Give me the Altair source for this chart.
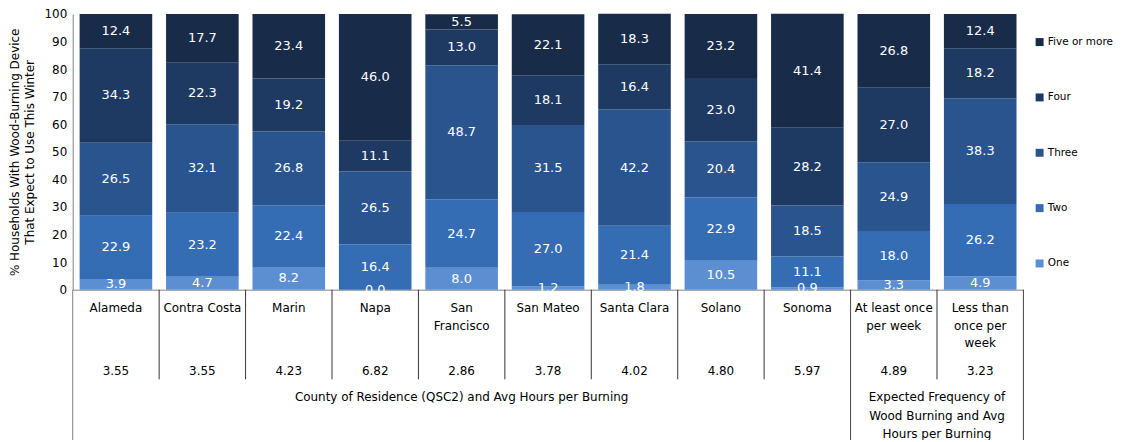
import altair as alt
import pandas as pd

categories = ["Alameda", "Contra Costa", "Marin", "Napa", "San Francisco", "San Mateo",
              "Santa Clara", "Solano", "Sonoma", "At least once per week", "Less than once per week"]
category_labels = ["Alameda", "Contra Costa", "Marin", "Napa", "San\nFrancisco", "San Mateo",
                   "Santa Clara", "Solano", "Sonoma", "At least once\nper week", "Less than\nonce per\nweek"]
avg_hours = ["3.55", "3.55", "4.23", "6.82", "2.86", "3.78", "4.02", "4.80", "5.97", "4.89", "3.23"]

levels = ["One", "Two", "Three", "Four", "Five or more"]
one = [3.9, 4.7, 8.2, 0.0, 8.0, 1.2, 1.8, 10.5, 0.9, 3.3, 4.9]
two = [22.9, 23.2, 22.4, 16.4, 24.7, 27.0, 21.4, 22.9, 11.1, 18.0, 26.2]
three = [26.5, 32.1, 26.8, 26.5, 48.7, 31.5, 42.2, 20.4, 18.5, 24.9, 38.3]
four = [34.3, 22.3, 19.2, 11.1, 13.0, 18.1, 16.4, 23.0, 28.2, 27.0, 18.2]
five = [12.4, 17.7, 23.4, 46.0, 5.5, 22.1, 18.3, 23.2, 41.4, 26.8, 12.4]
series = [one, two, three, four, five]

y_ticks = [0, 10, 20, 30, 40, 50, 60, 70, 80, 90, 100]

group_labels = ["County of Residence (QSC2) and Avg Hours per Burning",
                "Expected Frequency of\nWood Burning and Avg\nHours per Burning"]
group_start = [0, 9]
group_end = [9, 11]

level_colors = ["#5b8fd1", "#346db4", "#29548d", "#1e3a63", "#182c4a"]

y_title = ["% Households With Wood-Burning Device", "That Expect to Use This Winter"]

FONT = "DejaVu Sans"
W, H = 955, 277

rows = []
for i, cat in enumerate(categories):
    for k, lev in enumerate(levels):
        rows.append({"category": cat, "idx": i, "level": lev, "order": k, "value": series[k][i]})
df = pd.DataFrame(rows)

df_cat = pd.DataFrame({"idx": list(range(len(categories))), "label": category_labels, "hours": avg_hours})
df_grp = pd.DataFrame({"label": group_labels, "start": group_start, "end": group_end})
df_short = pd.DataFrame({"b": [1, 2, 3, 4, 5, 6, 7, 8, 10]})
df_long = pd.DataFrame({"b": [9, 11]})
df_left = pd.DataFrame({"b": [0]})

x_scale = alt.Scale(domain=[0, len(categories)], nice=False, zero=False)
x_axis = alt.Axis(labels=False, ticks=False, grid=False, title=None, domain=True,
                  domainColor="#808080", domainWidth=1)
y_scale = alt.Scale(domain=[0, 100], nice=False)
y_axis = alt.Axis(values=y_ticks, tickCount=11, title=y_title, grid=False, ticks=False,
                  domainColor="#808080", labelPadding=6, labelFontSize=12,
                  labelOverlap=False, labelBound=False,
                  titleFontSize=12, titleFontWeight="normal", titlePadding=7,
                  titleLineHeight=16, labelColor="#000", titleColor="#000")

stacked = alt.Chart(df).transform_stack(
    stack="value", groupby=["category"], as_=["y0", "y1"],
    sort=[alt.SortField("order", order="ascending")]
).transform_calculate(
    xa="datum.idx + 0.08", xb="datum.idx + 0.92", xm="datum.idx + 0.5",
    mid="(datum.y0 + datum.y1) / 2", lab="format(datum.value, '.1f')"
)

bars = stacked.mark_bar().encode(
    x=alt.X("xa:Q", scale=x_scale, axis=x_axis),
    x2="xb:Q",
    y=alt.Y("y0:Q", scale=y_scale, axis=y_axis),
    y2="y1:Q",
    color=alt.Color("level:N",
                    scale=alt.Scale(domain=levels[::-1], range=level_colors[::-1]),
                    legend=alt.Legend(title=None, orient="none", legendX=W + 11, legendY=23,
                                      symbolType="square", symbolSize=64, symbolStrokeWidth=0,
                                      labelFontSize=10.5, rowPadding=44.6, labelOffset=3,
                                      labelColor="#000", labelLimit=200)),
)

bar_text = stacked.mark_text(color="white", fontSize=13, font=FONT).encode(
    x=alt.X("xm:Q", scale=x_scale, axis=x_axis),
    y=alt.Y("mid:Q", scale=y_scale, axis=y_axis),
    text="lab:N",
)

cat_text = alt.Chart(df_cat).transform_calculate(xm="datum.idx + 0.5").mark_text(
    baseline="top", lineBreak="\n", lineHeight=18, fontSize=12, font=FONT, color="#000"
).encode(
    x=alt.X("xm:Q", scale=x_scale, axis=x_axis),
    y=alt.value(290),
    text="label:N",
)

hours_text = alt.Chart(df_cat).transform_calculate(xm="datum.idx + 0.5").mark_text(
    baseline="middle", fontSize=12, font=FONT, color="#000"
).encode(
    x=alt.X("xm:Q", scale=x_scale, axis=x_axis),
    y=alt.value(359),
    text="hours:N",
)

grp_text = alt.Chart(df_grp).transform_calculate(xm="(datum.start + datum.end) / 2").mark_text(
    baseline="top", lineBreak="\n", lineHeight=18.5, fontSize=12, font=FONT, color="#000"
).encode(
    x=alt.X("xm:Q", scale=x_scale, axis=x_axis),
    y=alt.value(380),
    text="label:N",
)

short_rules = alt.Chart(df_short).mark_rule(color="#333333", strokeWidth=1).encode(
    x=alt.X("b:Q", scale=x_scale, axis=x_axis), y=alt.value(H), y2=alt.value(367))
long_rules = alt.Chart(df_long).mark_rule(color="#444444", strokeWidth=1).encode(
    x=alt.X("b:Q", scale=x_scale, axis=x_axis), y=alt.value(H), y2=alt.value(440))
left_rule = alt.Chart(df_left).mark_rule(color="#808080", strokeWidth=1).encode(
    x=alt.X("b:Q", scale=x_scale, axis=x_axis), y=alt.value(H), y2=alt.value(440))

chart = alt.layer(
    bars, bar_text, short_rules, long_rules, left_rule, cat_text, hours_text, grp_text
).properties(
    width=W, height=H,
    autosize=alt.AutoSizeParams(type="none"),
    padding={"left": 65, "top": 5, "right": 95, "bottom": 150},
).configure(font=FONT).configure_view(stroke=None).configure_axis(labelFont=FONT, titleFont=FONT)

chart.save("out.html", embed_options={"renderer": "svg", "actions": False})
